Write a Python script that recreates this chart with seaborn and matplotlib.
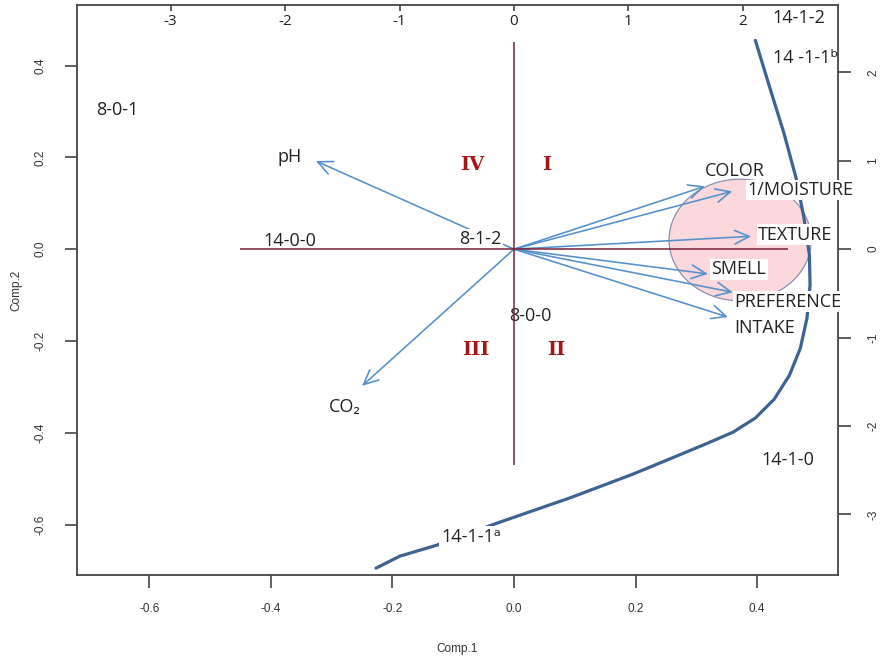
import matplotlib
matplotlib.use("Agg")
import matplotlib.pyplot as plt
import seaborn as sns
import pandas as pd
from matplotlib.patches import Ellipse, FancyArrowPatch

# ---------------- data ----------------
curve_x = [0.397, 0.421, 0.444, 0.464, 0.477, 0.486, 0.487, 0.482, 0.471, 0.453, 0.428,
           0.397, 0.360, 0.318, 0.260, 0.196, 0.092, -0.028, -0.127, -0.188, -0.227]
curve_y = [0.455, 0.351, 0.253, 0.155, 0.068, -0.013, -0.078, -0.150, -0.216, -0.275, -0.327,
           -0.368, -0.399, -0.423, -0.455, -0.490, -0.542, -0.597, -0.645, -0.669, -0.695]

var_names = ["pH", "CO\u2082", "COLOR", "1/MOISTURE", "TEXTURE", "SMELL", "PREFERENCE", "INTAKE"]
var_x = [-0.326, -0.250, 0.314, 0.359, 0.390, 0.319, 0.360, 0.352]
var_y = [0.192, -0.298, 0.137, 0.126, 0.028, -0.054, -0.094, -0.148]
var_label_x = [-0.369, -0.278, 0.364, 0.471, 0.463, 0.370, 0.451, 0.412]
var_label_y = [0.200, -0.344, 0.170, 0.129, 0.031, -0.044, -0.115, -0.172]
var_label_box = [False, False, False, True, True, True, True, False]

sample_names = ["14-1-2", "14 -1-1\u1d47", "8-0-1", "14-0-0", "8-1-2", "8-0-0", "14-1-0", "14-1-1\u1d43"]
sample_x = [0.469, 0.479, -0.652, -0.369, -0.056, 0.026, 0.451, -0.071]
sample_y = [0.503, 0.416, 0.303, 0.017, 0.022, -0.146, -0.460, -0.627]
sample_box = [False, False, False, False, True, False, False, True]

quad_names = ["I", "II", "III", "IV"]
quad_x = [0.053, 0.069, -0.063, -0.069]
quad_y = [0.183, -0.220, -0.220, 0.183]

cluster_center = (0.372, 0.020)
cluster_w, cluster_h = 0.234, 0.265

hline_extent = (-0.451, 0.451)
vline_extent = (-0.471, 0.451)

bottom_ticks = [-0.6, -0.4, -0.2, 0.0, 0.2, 0.4]
left_ticks = [-0.6, -0.4, -0.2, 0.0, 0.2, 0.4]
top_ticks = [-3, -2, -1, 0, 1, 2]
right_ticks = [-3, -2, -1, 0, 1, 2]
top_scale = 5.31     # top axis units per Comp.1 unit
right_scale = 5.19   # right axis units per Comp.2 unit

# ---------------- style ----------------
sns.set_theme(style="white")
plt.rcParams["font.family"] = ["Open Sans", "DejaVu Sans"]
plt.rcParams["axes.edgecolor"] = "#444444"

fig = plt.figure(figsize=(8.88, 6.56), dpi=100)
ax = fig.add_axes([77 / 888, 81 / 656, 761 / 888, 570 / 656])
ax.set_xlim(-0.719, 0.533)
ax.set_ylim(-0.710, 0.532)

for s in ax.spines.values():
    s.set_linewidth(1.3)
    s.set_color("#444444")

# pink cluster
ax.add_patch(Ellipse(cluster_center, cluster_w, cluster_h, facecolor="#fad8db",
                     edgecolor="#8a8fb0", lw=0.9, zorder=1))

# curve
df = pd.DataFrame({"Comp.1": curve_x, "Comp.2": curve_y})
sns.lineplot(data=df, x="Comp.1", y="Comp.2", sort=False, estimator=None,
             color="#3d6392", lw=2.3, ax=ax, zorder=3)

# variable arrows
for vx, vy in zip(var_x, var_y):
    ax.add_patch(FancyArrowPatch((0, 0), (vx, vy),
                                 arrowstyle="->,head_length=0.75,head_width=0.35",
                                 mutation_scale=14, color="#5490cc", lw=1.15,
                                 shrinkA=0, shrinkB=0, zorder=4))

txt_kw = dict(fontsize=13, color="#222222", ha="center", va="center", zorder=6,
              clip_on=False)
box = dict(boxstyle="square,pad=0.08", fc="white", ec="none")

for name, lx, ly, b in zip(var_names, var_label_x, var_label_y, var_label_box):
    ax.text(lx, ly, name, bbox=box if b else None, **txt_kw)

for name, lx, ly, b in zip(sample_names, sample_x, sample_y, sample_box):
    ax.text(lx, ly, name, bbox=box if b else None, **txt_kw)

# axis cross (drawn over the label boxes)
ax.hlines(0, hline_extent[0], hline_extent[1], color="#7a1f35", lw=1.1, zorder=7)
ax.vlines(0, vline_extent[0], vline_extent[1], color="#7a1f35", lw=1.1, zorder=7)

for name, qx, qy in zip(quad_names, quad_x, quad_y):
    ax.text(qx, qy, name, fontsize=14, color="#a3161a", fontweight="bold",
            family="DejaVu Serif", ha="center", va="center", zorder=6)

# primary axes ticks
ax.set_xticks(bottom_ticks)
ax.set_xticklabels([f"{t:.1f}" for t in bottom_ticks])
ax.set_yticks(left_ticks)
ax.set_yticklabels([f"{t:.1f}" for t in left_ticks], rotation=90, va="center")
ax.tick_params(axis="both", direction="out", length=9, width=1.2, color="#444444",
               labelsize=8.5, labelcolor="#333333", bottom=True, left=True)
ax.tick_params(axis="x", pad=11)
ax.tick_params(axis="y", pad=13)
for lab in ax.get_xticklabels() + ax.get_yticklabels():
    lab.set_family("Liberation Sans")
ax.set_xlabel("Comp.1", fontsize=8.5, family="Liberation Sans", color="#333333", labelpad=20)
ax.set_ylabel("Comp.2", fontsize=8.5, family="Liberation Sans", color="#333333", labelpad=9)

# secondary axes
top = ax.secondary_xaxis("top", functions=(lambda v: v * top_scale, lambda v: v / top_scale))
top.set_xticks(top_ticks)
top.set_xticklabels([str(t) for t in top_ticks])
top.tick_params(direction="in", length=4, width=1.2, color="#444444", labelsize=11,
                labelcolor="#222222", pad=-17)
top.spines["top"].set_visible(False)

right = ax.secondary_yaxis("right", functions=(lambda v: v * right_scale, lambda v: v / right_scale))
right.set_yticks(right_ticks)
right.set_yticklabels([str(t) for t in right_ticks], rotation=90, va="center")
right.tick_params(direction="out", length=9, width=1.2, color="#444444", labelsize=8.5,
                  labelcolor="#333333", pad=12)
for lab in right.get_yticklabels():
    lab.set_family("Liberation Sans")
right.spines["right"].set_visible(False)

fig.savefig("out.png", dpi=100, facecolor="white")
